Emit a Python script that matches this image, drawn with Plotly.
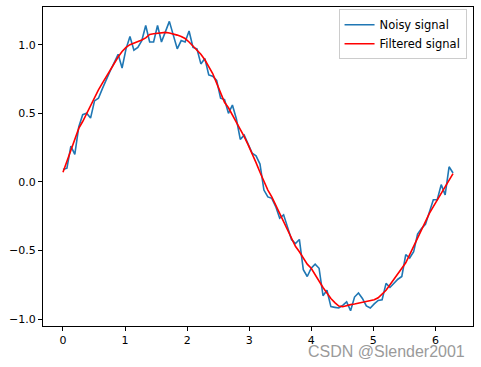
import numpy as np
import plotly.graph_objects as go

n_points = 100
x_start, x_end = 0.0, 2 * np.pi

noisy = [0.09, 0.10, 0.26, 0.20, 0.40, 0.49, 0.50, 0.465, 0.59, 0.61,
         0.68, 0.75, 0.81, 0.87, 0.93, 0.83, 0.97, 1.06, 0.96, 0.98,
         1.03, 1.14, 1.02, 1.02, 1.14, 1.02, 1.09, 1.17, 1.07, 0.97,
         1.03, 1.02, 1.10, 0.98, 0.97, 0.86, 0.90, 0.78, 0.77, 0.74,
         0.61, 0.60, 0.50, 0.56, 0.46, 0.31, 0.34, 0.28, 0.21, 0.19,
         0.13, -0.06, -0.11, -0.12, -0.18, -0.265, -0.24, -0.33, -0.42, -0.45,
         -0.42, -0.64, -0.69, -0.63, -0.60, -0.63, -0.83, -0.79, -0.91, -0.915,
         -0.92, -0.90, -0.875, -0.94, -0.84, -0.81, -0.85, -0.905, -0.92, -0.89,
         -0.865, -0.86, -0.74, -0.77, -0.74, -0.71, -0.69, -0.53, -0.555, -0.51,
         -0.38, -0.34, -0.31, -0.22, -0.13, -0.13, -0.02, -0.095, 0.11, 0.065]

filtered = [0.07, 0.15, 0.23, 0.31, 0.39, 0.44, 0.50, 0.56, 0.62, 0.67,
            0.72, 0.77, 0.82, 0.87, 0.91, 0.95, 0.98, 1.00, 1.01, 1.02,
            1.035, 1.05, 1.075, 1.08, 1.085, 1.09, 1.09, 1.085, 1.08, 1.07,
            1.06, 1.045, 1.02, 0.99, 0.96, 0.93, 0.89, 0.84, 0.79, 0.72,
            0.65, 0.58, 0.54, 0.49, 0.44, 0.39, 0.33, 0.27, 0.21, 0.14,
            0.07, 0.00, -0.06, -0.11, -0.17, -0.23, -0.29, -0.36, -0.42, -0.47,
            -0.51, -0.56, -0.60, -0.63, -0.68, -0.72, -0.77, -0.81, -0.85, -0.88,
            -0.905, -0.91, -0.90, -0.895, -0.89, -0.885, -0.88, -0.875, -0.87, -0.86,
            -0.845, -0.82, -0.79, -0.75, -0.71, -0.67, -0.63, -0.59, -0.53, -0.47,
            -0.40, -0.35, -0.29, -0.23, -0.18, -0.13, -0.08, -0.04, 0.01, 0.06]

x_ticks = [0, 1, 2, 3, 4, 5, 6]
y_ticks = [-1.0, -0.5, 0.0, 0.5, 1.0]
y_tick_labels = ["−1.0", "−0.5", "0.0", "0.5", "1.0"]

x = np.linspace(x_start, x_end, n_points)

fig = go.Figure()
fig.add_trace(go.Scatter(x=x, y=noisy, mode="lines", name="Noisy signal",
                         line=dict(color="#1f77b4", width=1.6)))
fig.add_trace(go.Scatter(x=x, y=filtered, mode="lines", name="Filtered signal",
                         line=dict(color="red", width=1.6)))

axis_common = dict(showgrid=False, zeroline=False, showline=True, linecolor="black",
                   linewidth=1, mirror=True, ticks="outside", ticklen=4,
                   tickcolor="black", tickwidth=1,
                   tickfont=dict(family="DejaVu Sans", size=11, color="black"))

fig.update_xaxes(range=[-0.322, 6.605], tickvals=x_ticks, **axis_common)
fig.update_yaxes(range=[-1.051, 1.275], tickvals=y_ticks, ticktext=y_tick_labels,
                 **axis_common)

fig.update_layout(
    width=481, height=367,
    margin=dict(l=43, r=8, t=7, b=41),
    plot_bgcolor="white", paper_bgcolor="white",
    font=dict(family="DejaVu Sans", size=11, color="black"),
    legend=dict(x=0.985, y=0.993, xanchor="right", yanchor="top",
                bgcolor="rgba(255,255,255,0.8)", bordercolor="#cccccc",
                borderwidth=1, font=dict(size=11.5), tracegroupgap=0,
                itemwidth=30),
    showlegend=True,
)

fig.add_annotation(text="CSDN @Slender2001", xref="paper", yref="paper",
                   x=0.985, y=-0.08, xanchor="right", yanchor="middle",
                   showarrow=False,
                   font=dict(family="Liberation Sans", size=16, color="#9a9a9a"))

fig.write_html("out.html", config={"displayModeBar": False},
               post_script="document.body.style.margin='0';document.body.style.overflow='hidden';")
